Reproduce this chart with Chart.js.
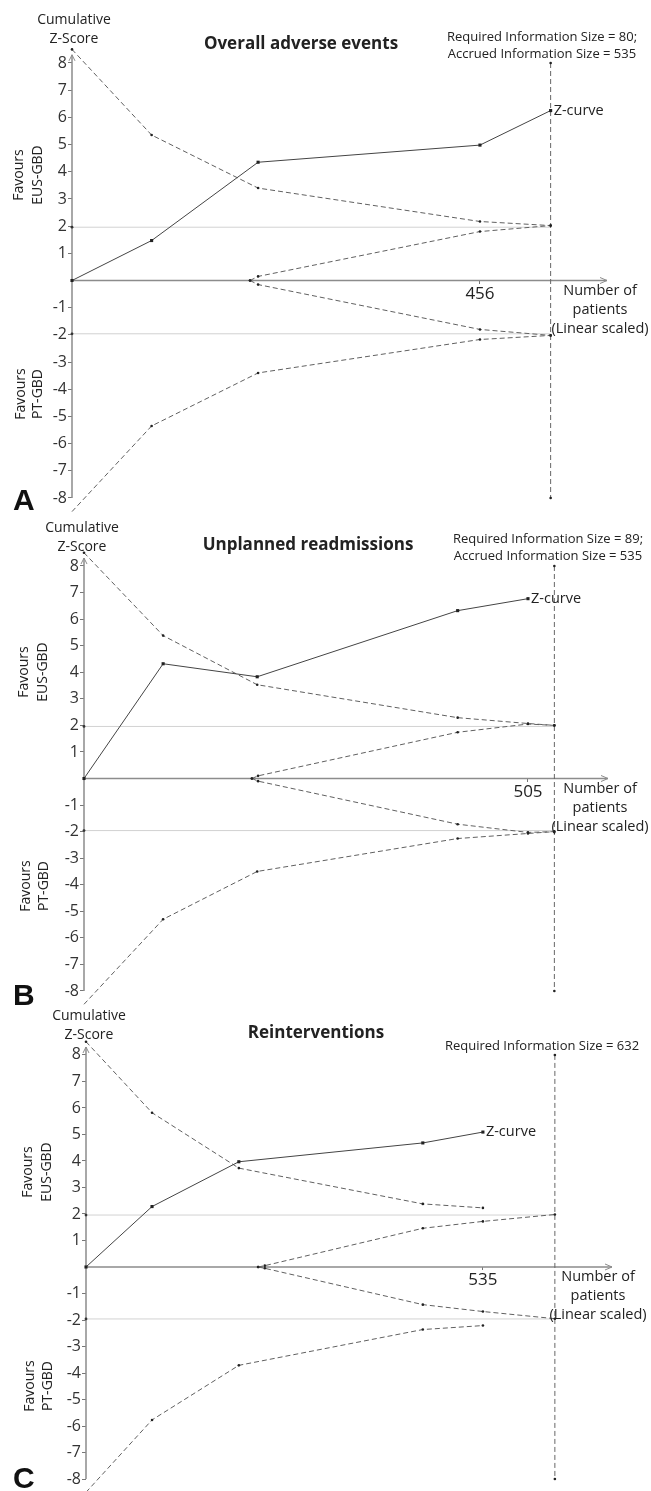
<!DOCTYPE html>
<html>
<head>
<meta charset="utf-8">
<script src="https://cdn.jsdelivr.net/npm/chart.js@4.4.1/dist/chart.umd.min.js"></script>
<style>
html, body { margin: 0; padding: 0; background: #fff; }
#wrap { position: relative; width: 651px; height: 1491px; overflow: hidden; }
canvas { position: absolute; left: 0; }
</style>
</head>
<body>
<div id="wrap">
  <canvas id="chartA"></canvas>
  <canvas id="chartB"></canvas>
  <canvas id="chartC"></canvas>
</div>
<script>
// tick labels on the z axis (0 has no label)
const yTicks = [-8, -7, -6, -5, -4, -3, -2, -1, 1, 2, 3, 4, 5, 6, 7, 8];
const zLevels = [1.96, -1.96];

// A - overall adverse events
const aPatients = [0, 89, 208, 456, 535];
const aZ = [0, 1.47, 4.35, 4.98, 6.25];
const aUpper = [8.5, 5.35, 3.4, 2.17, 2.02];
const aLower = [-8.5, -5.35, -3.4, -2.17, -2.02];
const aInnerX = [199, 208, 456, 535];
const aInnerUp = [0, 0.15, 1.8, 2.02];
const aInnerLow = [0, -0.15, -1.8, -2.02];
const aRIS = 535;
const aXTicks = [456];
const aRisText = ['Required Information Size = 80;', 'Accrued Information Size = 535'];

// B - unplanned readmissions
const bPatients = [0, 90, 197, 425, 505];
const bZ = [0, 4.32, 3.83, 6.32, 6.77];
const bBoundX = [0, 90, 197, 425, 505, 535];
const bUpper = [8.5, 5.38, 3.53, 2.29, 2.07, 2.0];
const bLower = [-8.5, -5.3, -3.5, -2.26, -2.07, -2.0];
const bInnerX = [191, 198, 425, 505, 535];
const bInnerUp = [0, 0.1, 1.74, 2.05, 2.0];
const bInnerLow = [0, -0.1, -1.72, -2.03, -2.0];
const bRIS = 535;
const bXTicks = [505];
const bRisText = ['Required Information Size = 89;', 'Accrued Information Size = 535'];

// C - reinterventions
const cPatients = [0, 89, 206, 454, 535];
const cZ = [0, 2.28, 3.97, 4.68, 5.09];
const cUpper = [8.5, 5.82, 3.73, 2.38, 2.23];
const cLower = [-8.5, -5.77, -3.71, -2.36, -2.21];
const cInnerX = [232, 241, 454, 535, 632];
const cInnerUp = [0, 0.05, 1.46, 1.72, 1.98];
const cInnerLow = [0, -0.05, -1.42, -1.68, -1.95];
const cRIS = 632;
const cXTicks = [535];
const cRisText = ['Required Information Size = 632'];

const yMin = -8.3, yMax = 8.6;
const FONT = '"Open Sans", "Noto Sans", sans-serif';

function pts(xs, ys) {
  return xs.map((x, i) => ({ x: x, y: ys[i] }));
}

function txt(ctx, s, x, y, font, align) {
  ctx.font = font;
  ctx.textAlign = align || 'center';
  ctx.textBaseline = 'middle';
  ctx.fillStyle = '#222';
  ctx.fillText(s, x, y);
}

function vtxt(ctx, s, x, y, font) {
  ctx.save();
  ctx.translate(x, y);
  ctx.rotate(-Math.PI / 2);
  txt(ctx, s, 0, 0, font);
  ctx.restore();
}

function makeDecor(p) {
  return {
    id: 'decor' + p.id,
    beforeDatasetsDraw(chart) {
      const ctx = chart.ctx, xs = chart.scales.x, ys = chart.scales.y;
      const x0 = xs.getPixelForValue(0), y0 = ys.getPixelForValue(0);
      const right = chart.chartArea.right;
      const top = ys.getPixelForValue(8.3), bot = ys.getPixelForValue(-8);
      ctx.save();
      ctx.strokeStyle = '#8c8c8c';
      ctx.lineWidth = 1.5;
      ctx.beginPath();
      ctx.moveTo(x0, bot); ctx.lineTo(x0, top);
      ctx.moveTo(x0, y0); ctx.lineTo(right, y0);
      ctx.stroke();
      ctx.lineWidth = 1;
      ctx.beginPath();
      ctx.moveTo(x0 - 3, top + 6); ctx.lineTo(x0, top); ctx.lineTo(x0 + 3, top + 6);
      ctx.moveTo(right - 7, y0 - 3); ctx.lineTo(right, y0); ctx.lineTo(right - 7, y0 + 3);
      ctx.stroke();
      ctx.restore();
    },
    afterDraw(chart) {
      const ctx = chart.ctx, ys = chart.scales.y;
      const T = p.top;
      const y0 = ys.getPixelForValue(0);
      ctx.save();
      txt(ctx, 'Cumulative', p.cumX, p.cumY - T, '14px ' + FONT);
      txt(ctx, 'Z-Score', p.cumX, p.cumY + 19 - T, '14px ' + FONT);
      txt(ctx, p.title, p.titleX, p.titleY - T, 'bold 17px ' + FONT);
      p.risLines.forEach((s, i) => txt(ctx, s, p.risX, p.risY + i * 17 - T, '13px ' + FONT));
      vtxt(ctx, 'Favours', p.favUp[0], p.favUp[2] - T, '14px ' + FONT);
      vtxt(ctx, 'EUS-GBD', p.favUp[1], p.favUp[2] - T, '14px ' + FONT);
      vtxt(ctx, 'Favours', p.favLow[0], p.favLow[2] - T, '14px ' + FONT);
      vtxt(ctx, 'PT-GBD', p.favLow[1], p.favLow[2] - T, '14px ' + FONT);
      txt(ctx, 'Number of', p.numX, y0 + 10, '14.5px ' + FONT);
      txt(ctx, 'patients', p.numX, y0 + 29, '14.5px ' + FONT);
      txt(ctx, '(Linear scaled)', p.numX, y0 + 48, '14.5px ' + FONT);
      const zPts = chart.getDatasetMeta(0).data;
      const last = zPts[zPts.length - 1];
      txt(ctx, 'Z-curve', last.x + 3, last.y, '14.5px ' + FONT, 'left');
      ctx.font = 'bold 30px "Liberation Sans", Arial, sans-serif';
      ctx.textAlign = 'left';
      ctx.textBaseline = 'alphabetic';
      ctx.fillStyle = '#111';
      ctx.fillText(p.letter, 13, p.letterY - T);
      ctx.restore();
    }
  };
}

function dashed(data) {
  return {
    data: data, showLine: true, borderColor: '#606060', borderWidth: 1,
    borderDash: [5, 3], pointRadius: 1.3, pointBackgroundColor: '#222',
    pointBorderWidth: 0, clip: false
  };
}

function makePanel(p) {
  const canvas = document.getElementById(p.id);
  canvas.width = 651;
  canvas.height = p.height;
  canvas.style.top = p.top + 'px';
  const ppu = (p.yM8 - p.y8) / 16;
  const areaTop = p.y8 - (yMax - 8) * ppu;
  const areaBottom = p.yM8 + (-8 - yMin) * ppu;

  const datasets = [
    {
      data: pts(p.zX, p.z), showLine: true, borderColor: '#444', borderWidth: 1,
      pointStyle: 'rect', pointRadius: 2.2, pointBackgroundColor: '#222',
      pointBorderWidth: 0, clip: false
    },
    dashed(pts(p.boundX, p.upper)),
    dashed(pts(p.boundX, p.lower)),
    dashed(pts(p.innerX, p.innerUp)),
    dashed(pts(p.innerX, p.innerLow)),
    Object.assign(dashed([{ x: p.ris, y: 8 }, { x: p.ris, y: -8 }]), { borderColor: '#666' }),
    {
      data: [{ x: 0, y: zLevels[0] }, { x: p.ris, y: zLevels[0] }], showLine: true,
      borderColor: '#d2d2d2', borderWidth: 1, pointRadius: [1.4, 0],
      pointBackgroundColor: '#333', pointBorderWidth: 0, clip: false
    },
    {
      data: [{ x: 0, y: zLevels[1] }, { x: p.ris, y: zLevels[1] }], showLine: true,
      borderColor: '#d2d2d2', borderWidth: 1, pointRadius: [1.4, 0],
      pointBackgroundColor: '#333', pointBorderWidth: 0, clip: false
    }
  ];

  return new Chart(canvas, {
    type: 'scatter',
    data: { datasets: datasets },
    options: {
      responsive: false,
      animation: false,
      devicePixelRatio: 1,
      layout: {
        padding: {
          left: 0,
          right: 651 - p.axisRight,
          top: areaTop - p.top,
          bottom: p.top + p.height - areaBottom
        }
      },
      plugins: { legend: { display: false }, tooltip: { enabled: false } },
      scales: {
        x: {
          type: 'linear', min: 0, max: p.xMax, position: { y: 0 },
          afterBuildTicks: s => { s.ticks = p.xTicks.map(v => ({ value: v })); },
          afterFit: s => { s.paddingLeft = 0; s.paddingRight = 0; },
          border: { display: false },
          grid: { drawOnChartArea: false, tickLength: 3, color: '#777' },
          ticks: { font: { family: FONT, size: 17 }, color: '#222', padding: 0, maxRotation: 0 }
        },
        y: {
          type: 'linear', min: yMin, max: yMax,
          afterBuildTicks: s => { s.ticks = yTicks.map(v => ({ value: v })); },
          afterFit: s => { s.width = p.axisLeft; s.paddingTop = 0; s.paddingBottom = 0; },
          border: { display: false },
          grid: { drawOnChartArea: false, tickLength: 4, color: '#777' },
          ticks: { font: { family: FONT, size: 16 }, color: '#333', padding: 1, autoSkip: false }
        }
      }
    },
    plugins: [makeDecor(p)]
  });
}

function draw() {
  makePanel({
    id: 'chartA', top: 0, height: 520, letter: 'A', letterY: 510,
    zX: aPatients, z: aZ, boundX: aPatients, upper: aUpper, lower: aLower,
    innerX: aInnerX, innerUp: aInnerUp, innerLow: aInnerLow, ris: aRIS, xTicks: aXTicks,
    axisLeft: 72, axisRight: 607, xMax: 598, y8: 63, yM8: 498,
    cumX: 74, cumY: 20, title: 'Overall adverse events', titleX: 301, titleY: 44,
    risLines: aRisText, risX: 542, risY: 37,
    favUp: [19, 38, 175], favLow: [21, 38, 394], numX: 600
  });
  makePanel({
    id: 'chartB', top: 505, height: 505, letter: 'B', letterY: 1005,
    zX: bPatients, z: bZ, boundX: bBoundX, upper: bUpper, lower: bLower,
    innerX: bInnerX, innerUp: bInnerUp, innerLow: bInnerLow, ris: bRIS, xTicks: bXTicks,
    axisLeft: 84, axisRight: 608, xMax: 596, y8: 566, yM8: 991,
    cumX: 82, cumY: 528, title: 'Unplanned readmissions', titleX: 308, titleY: 545,
    risLines: bRisText, risX: 548, risY: 539,
    favUp: [24, 43, 672], favLow: [26, 44, 886], numX: 600
  });
  makePanel({
    id: 'chartC', top: 995, height: 496, letter: 'C', letterY: 1488,
    zX: cPatients, z: cZ, boundX: cPatients, upper: cUpper, lower: cLower,
    innerX: cInnerX, innerUp: cInnerUp, innerLow: cInnerLow, ris: cRIS, xTicks: cXTicks,
    axisLeft: 86, axisRight: 612, xMax: 709, y8: 1055, yM8: 1481,
    cumX: 89, cumY: 1016, title: 'Reinterventions', titleX: 316, titleY: 1033,
    risLines: cRisText, risX: 542, risY: 1046,
    favUp: [28, 47, 1172], favLow: [30, 48, 1386], numX: 598
  });
}

document.fonts.load('15px "Open Sans"').then(draw, draw);
</script>
</body>
</html>
